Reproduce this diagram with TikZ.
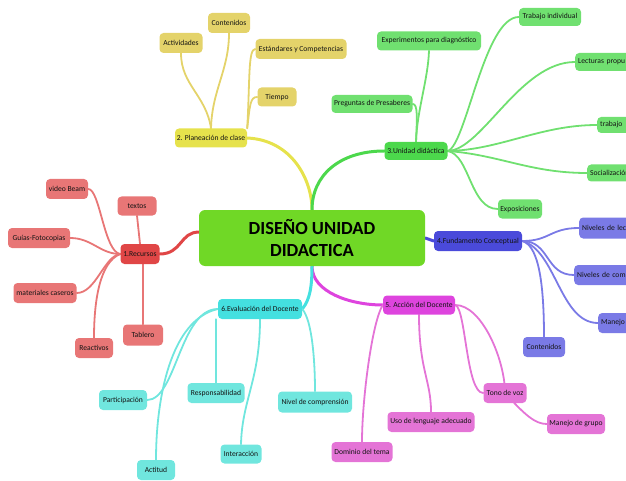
\documentclass[tikz,border=0pt]{standalone}
\usepackage{fontspec}
\setmainfont{Carlito}
\usetikzlibrary{backgrounds}
\definecolor{cmain}{HTML}{70D826}
\definecolor{redM}{HTML}{E04646}
\definecolor{redC}{HTML}{E87676}
\definecolor{yelM}{HTML}{E6E24C}
\definecolor{yelC}{HTML}{E4D36A}
\definecolor{grnM}{HTML}{4CD84C}
\definecolor{grnC}{HTML}{70E070}
\definecolor{bluM}{HTML}{4A4ADA}
\definecolor{bluC}{HTML}{7A7AE6}
\definecolor{magM}{HTML}{DE44DE}
\definecolor{magC}{HTML}{E474D6}
\definecolor{cyaM}{HTML}{44E0E0}
\definecolor{cyaC}{HTML}{70E6DE}
\definecolor{txt}{HTML}{141414}
\tikzset{
  box/.style={rounded corners=4pt, inner sep=1pt, text=txt,
    font=\fontsize{7.6}{8}\selectfont, align=center},
  edgebox/.style={box, anchor=west, minimum width=80pt, text width=74pt, align=left},
  kid/.style={line width=1.8pt, line cap=round},
  trunk/.style={line width=3pt, line cap=round},
}
\begin{document}
\begin{tikzpicture}[x=1pt,y=-1pt]
\useasboundingbox (0,0) rectangle (626,481);
\clip (0,0) rectangle (626,481);

% central
\node[box, fill=cmain, rounded corners=6pt, minimum width=226pt, minimum height=56pt,
  font=\fontsize{18.5}{22}\selectfont\bfseries, text=black] (c) at (312,238) {DISEÑO UNIDAD\\DIDACTICA};

% red group
\node[box, fill=redM, minimum width=39pt, minimum height=20pt] (rec) at (140,254) {1.Recursos};
\node[box, fill=redC, minimum width=39pt, minimum height=19pt] (textos) at (137,206) {textos};
\node[box, fill=redC, minimum width=42pt, minimum height=20pt] (vb) at (67,189) {video Beam};
\node[box, fill=redC, minimum width=62pt, minimum height=20pt] (gf) at (39,238) {Guías-Fotocopias};
\node[box, fill=redC, minimum width=63pt, minimum height=20pt] (mc) at (45,293) {materiales caseros};
\node[box, fill=redC, minimum width=38pt, minimum height=20pt] (rea) at (94,348) {Reactivos};
\node[box, fill=redC, minimum width=40pt, minimum height=21pt] (tab) at (143,335) {Tablero};

% yellow group
\node[box, fill=yelM, minimum width=72pt, minimum height=19pt] (plan) at (211,138) {2. Planeación de clase};
\node[box, fill=yelC, minimum width=43pt, minimum height=20pt] (act) at (181,43) {Actividades};
\node[box, fill=yelC, minimum width=42pt, minimum height=20pt] (cont) at (229,23) {Contenidos};
\node[box, fill=yelC, minimum width=91pt, minimum height=20pt] (est) at (301,49) {Estándares y Competencias};
\node[box, fill=yelC, minimum width=39pt, minimum height=19pt] (tie) at (277,97) {Tiempo};

% green group
\node[box, fill=grnM, minimum width=63pt, minimum height=18pt] (uni) at (416,151) {3.Unidad didáctica};
\node[box, fill=grnC, minimum width=104pt, minimum height=19pt] (exp) at (429,41) {Experimentos para diagnóstico};
\node[box, fill=grnC, minimum width=81pt, minimum height=18pt] (pre) at (372,104) {Preguntas de Presaberes};
\node[box, fill=grnC, minimum width=62pt, minimum height=18pt] (ti) at (550,17) {Trabajo individual};
\node[edgebox, fill=grnC, minimum height=18pt] (lec) at (575,62) {Lecturas propu};
\node[edgebox, fill=grnC, minimum height=16pt] (trab) at (597,125) {trabajo};
\node[edgebox, fill=grnC, minimum height=17pt] (soc) at (587,173) {Socialización};
\node[box, fill=grnC, minimum width=44pt, minimum height=19pt] (expo) at (520,209) {Exposiciones};

% blue group
\node[box, fill=bluM, minimum width=88pt, minimum height=20pt] (fund) at (478,241) {4.Fundamento Conceptual};
\node[edgebox, fill=bluC, minimum height=21pt] (nl) at (579,228) {Niveles de lec};
\node[edgebox, fill=bluC, minimum height=20pt] (nc) at (574,275) {Niveles de comp};
\node[edgebox, fill=bluC, minimum height=20pt] (man) at (598,323) {Manejo};
\node[box, fill=bluC, minimum width=42pt, minimum height=20pt] (cont2) at (544,347) {Contenidos};

% magenta group
\node[box, fill=magM, minimum width=72pt, minimum height=19pt] (acc) at (419,305) {5. Acción del Docente};
\node[box, fill=magC, minimum width=43pt, minimum height=20pt] (tono) at (505,393) {Tono de voz};
\node[box, fill=magC, minimum width=58pt, minimum height=20pt] (mg) at (576,424) {Manejo de grupo};
\node[box, fill=magC, minimum width=87pt, minimum height=20pt] (uso) at (431,422) {Uso de lenguaje adecuado};
\node[box, fill=magC, minimum width=61pt, minimum height=20pt] (dom) at (362,452) {Dominio del tema};

% cyan group
\node[box, fill=cyaM, minimum width=84pt, minimum height=20pt] (eva) at (260,309) {6.Evaluación del Docente};
\node[box, fill=cyaC, minimum width=48pt, minimum height=20pt] (par) at (123,400) {Participación};
\node[box, fill=cyaC, minimum width=57pt, minimum height=20pt] (res) at (216,393) {Responsabilidad};
\node[box, fill=cyaC, minimum width=74pt, minimum height=21pt] (niv) at (315,402) {Nivel de comprensión};
\node[box, fill=cyaC, minimum width=41pt, minimum height=19pt] (int) at (241,454) {Interacción};
\node[box, fill=cyaC, minimum width=38pt, minimum height=20pt] (actt) at (156,470) {Actitud};

\begin{pgfonlayer}{background}
% red
\draw[trunk, redM] (rec.east) .. controls (182,254) and (180,232) .. (c.177);
\draw[kid, redC] (rec.north) -- (textos.south);
\draw[kid, redC] (rec.west) .. controls (104,252) and (100,189) .. (vb.east);
\draw[kid, redC] (rec.west) .. controls (100,254) and (92,238) .. (gf.east);
\draw[kid, redC] (rec.west) .. controls (104,256) and (96,293) .. (mc.east);
\draw[kid, redC] (rec.west) .. controls (100,262) and (94,300) .. (rea.north);
\draw[kid, redC] (tab.north) -- (tab.north |- rec.south);
% yellow
\draw[trunk, yelM] (plan.east) .. controls (292,140) and (312,180) .. (c.north);
\draw[kid, yelC] (plan.north) .. controls (206,95) and (181,85) .. (act.south);
\draw[kid, yelC] (plan.north) .. controls (212,90) and (229,70) .. (cont.south);
\draw[kid, yelC] (plan.north east) .. controls (250,80) and (248,49) .. (est.west);
\draw[kid, yelC] (plan.north east) .. controls (250,105) and (250,97) .. (tie.west);
% green
\draw[trunk, grnM] (c.north) .. controls (312,175) and (340,151) .. (uni.west);
\draw[kid, grnC] (uni.north) .. controls (417,110) and (428,80) .. (exp.south);
\draw[kid, grnC] (uni.north) .. controls (417,118) and (418,104) .. (pre.east);
\draw[kid, grnC] (uni.east) .. controls (466,146) and (484,17) .. (ti.west);
\draw[kid, grnC] (uni.east) .. controls (482,150) and (520,62) .. (lec.west);
\draw[kid, grnC] (uni.east) .. controls (500,150) and (540,125) .. (trab.west);
\draw[kid, grnC] (uni.east) .. controls (500,155) and (530,173) .. (soc.west);
\draw[kid, grnC] (uni.east) .. controls (470,155) and (470,209) .. (expo.west);
% blue
\draw[trunk, bluM] (c.east) -- (fund.west);
\draw[kid, bluC] (fund.east) .. controls (550,241) and (550,228) .. (nl.west);
\draw[kid, bluC] (fund.east) .. controls (550,241) and (545,275) .. (nc.west);
\draw[kid, bluC] (fund.east) .. controls (556,250) and (560,323) .. (man.west);
\draw[kid, bluC] (fund.east) .. controls (536,245) and (544,272) .. (cont2.north);
% magenta
\draw[trunk, magM] (c.south) .. controls (312,292) and (350,305) .. (acc.west);
\draw[kid, magC] (acc.west) .. controls (372,322) and (362,400) .. (dom.north);
\draw[kid, magC] (acc.south) .. controls (419,370) and (431,380) .. (uso.north);
\draw[kid, magC] (acc.east) .. controls (466,308) and (466,393) .. (tono.west);
\draw[kid, magC] (acc.east) .. controls (482,305) and (505,360) .. (tono.center)
   .. controls (525,415) and (535,424) .. (mg.west);
% cyan
\draw[trunk, cyaM] (c.south) .. controls (312,286) and (310,300) .. (eva.east);
\draw[kid, cyaC] (eva.west) .. controls (180,309) and (176,400) .. (par.east);
\draw[kid, cyaC] (eva.west) .. controls (170,320) and (156,400) .. (actt.north);
\draw[kid, cyaC] (res.north) -- (res.north |- eva.south);
\draw[kid, cyaC] (eva.south) .. controls (260,380) and (242,400) .. (int.north);
\draw[kid, cyaC] (eva.east) .. controls (312,320) and (315,360) .. (niv.north);
\end{pgfonlayer}
\end{tikzpicture}
\end{document}
